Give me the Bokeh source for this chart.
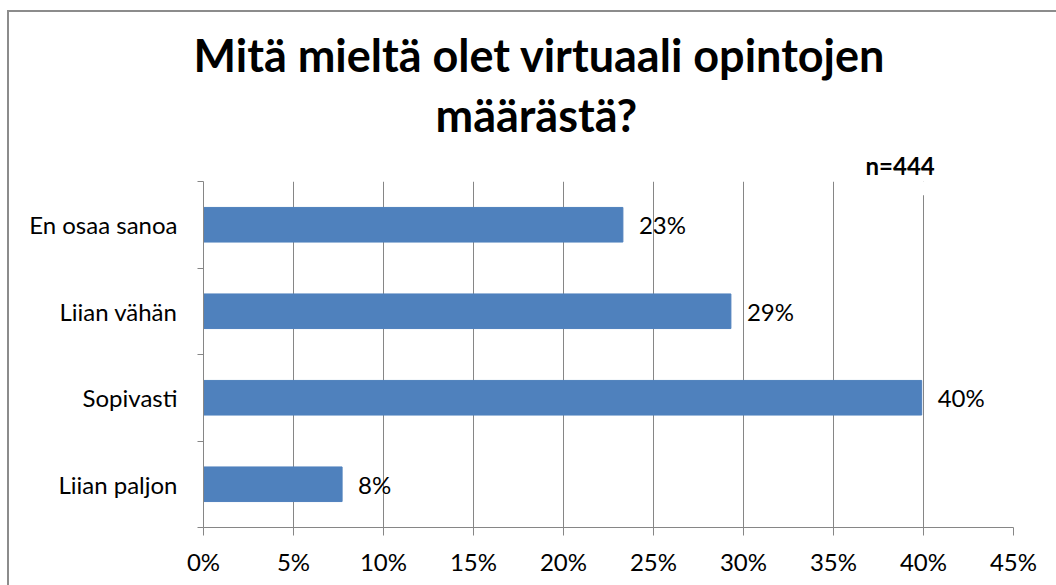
from bokeh.plotting import figure
from bokeh.models import (ColumnDataSource, Range1d, LinearAxis, FixedTicker,
                          NumeralTickFormatter, Title, BoxAnnotation, Grid, InlineStyleSheet)
from bokeh.core.properties import value
from bokeh.embed import file_html
from bokeh.resources import INLINE

# ---- data (bottom to top) ----
categories = ["Liian paljon", "Sopivasti", "Liian vähän", "En osaa sanoa"]
shares = [0.077, 0.399, 0.293, 0.233]
x_ticks = [0.0, 0.05, 0.10, 0.15, 0.20, 0.25, 0.30, 0.35, 0.40, 0.45]
title_lines = ["Mitä mieltä olet virtuaali opintojen", "määrästä?"]
sample_note = "n=444"

FONT = "Lato"
GRAY = "#868686"
BAR = "#4F81BD"

n = len(categories)
centers = [i + 0.5 for i in range(n)]
bounds = [float(i) for i in range(n + 1)]
labels = [f"{round(v * 100)}%" for v in shares]
src = ColumnDataSource(dict(y=centers, share=shares, label=labels))

W, H = 1056, 585
p = figure(width=W, height=H, output_backend="svg", toolbar_location=None,
           y_range=Range1d(0, n), x_range=Range1d(x_ticks[0], x_ticks[-1]),
           x_axis_location=None, y_axis_location=None,
           min_border_left=203, min_border_right=43, min_border_top=181, min_border_bottom=58)
p.outline_line_color = None
p.background_fill_color = "white"
p.border_fill_color = "white"
p.center = [c for c in p.center if not isinstance(c, Grid)]

ya = LinearAxis(ticker=FixedTicker(ticks=centers, minor_ticks=bounds),
                major_label_overrides={c: name for c, name in zip(centers, categories)},
                major_tick_out=0, major_tick_in=0, minor_tick_out=6, minor_tick_in=0,
                axis_line_color=GRAY, major_tick_line_color=None, minor_tick_line_color=GRAY,
                major_label_standoff=20, major_label_orientation="horizontal",
                major_label_text_font=FONT, major_label_text_font_size="24px",
                major_label_text_color="black")
p.add_layout(ya, "left")

xa = LinearAxis(ticker=FixedTicker(ticks=x_ticks), formatter=NumeralTickFormatter(format="0%"),
                major_tick_out=8, major_tick_in=0, minor_tick_out=0, minor_tick_in=0,
                axis_line_color=GRAY, major_tick_line_color=GRAY, major_label_standoff=11,
                major_label_text_font=FONT, major_label_text_font_size="24px",
                major_label_text_color="black")
p.add_layout(xa, "below")

grid = Grid(dimension=0, ticker=FixedTicker(ticks=x_ticks), grid_line_color=GRAY, grid_line_width=1)
p.add_layout(grid)

# small white patch where the n-note box overlaps the 40% gridline in the original
p.add_layout(BoxAnnotation(left=x_ticks[-2] - 0.002, right=x_ticks[-2] + 0.002,
                           top=n, bottom=n - 0.16, fill_color="white", fill_alpha=1,
                           line_color=None))

p.hbar(y="y", left=0, right="share", height=0.4, source=src,
       fill_color=BAR, line_color=BAR)

p.text(x="share", y="y", text="label", source=src, x_offset=16,
       text_align="left", text_baseline="middle", text_font=value(FONT),
       text_font_size="24px", text_color="black")

# titles: first added sits closest to the plot
p.add_layout(Title(text=sample_note, align="left", offset=662, standoff=4,
                   text_font=FONT, text_font_style="bold", text_font_size="24px",
                   text_color="black"), "above")
p.add_layout(Title(text=title_lines[1], align="left", offset=232, standoff=9,
                   text_font=FONT, text_font_style="bold", text_font_size="45px",
                   text_color="black"), "above")
p.add_layout(Title(text=title_lines[0], align="left", offset=-10, standoff=0,
                   text_font=FONT, text_font_style="bold", text_font_size="45px",
                   text_color="black"), "above")

p.stylesheets = [InlineStyleSheet(css="""
:host { position: relative; }
:host::after {
  content: ""; position: absolute; left: 7px; top: 10px; right: 0; bottom: 0;
  border-left: 2px solid #8c8c8c; border-top: 2px solid #8c8c8c;
  pointer-events: none; z-index: 10;
}
""")]

open("out.html", "w").write(file_html(p, INLINE))
